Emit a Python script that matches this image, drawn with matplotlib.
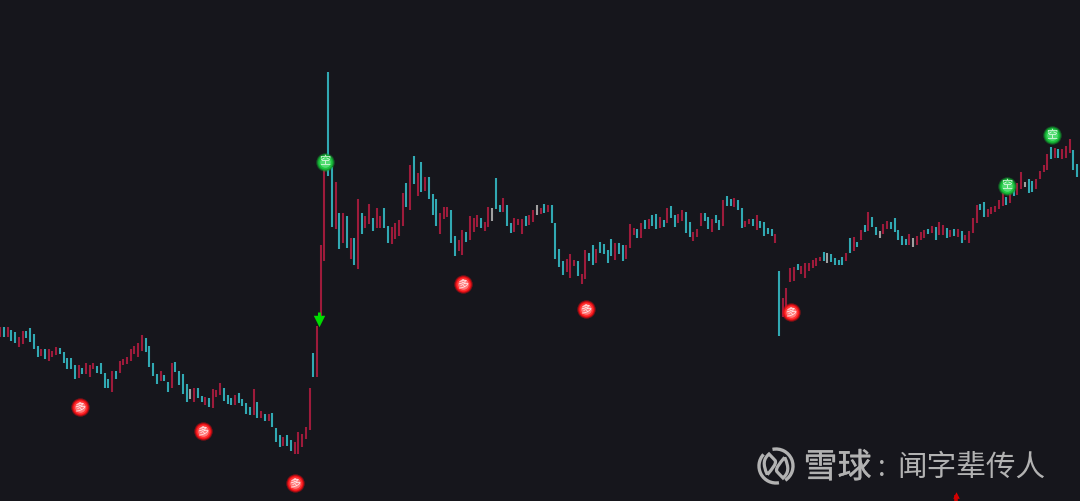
import matplotlib
matplotlib.use("Agg")
import matplotlib.pyplot as plt
import matplotlib.patheffects as pe
from matplotlib.path import Path
from matplotlib.patches import PathPatch, Arc

plt.rcParams['font.family'] = ['Noto Sans CJK SC', 'DejaVu Sans']

# candle tops (level grows downward, the chart has no visible scale)
bar_top = [
 327.3,327.3,327.3,330,332.3,337.3,331,331,328.3,334.3,
 346,349.3,349.3,349.3,350.7,347.3,348.3,351.7,358.3,358.3,
 365,365,368.3,363.3,365,363.3,365.7,363.3,372.7,378.7,
 371,371,361,358.7,357.3,349.3,346,343.3,335.3,338,
 346,363.3,373.7,371.3,375,381.7,363.3,362,371.3,373.7,
 384.3,389,387.7,387.7,395.7,397.3,398.3,389,390,383,
 387.7,394.7,398.3,394.7,393.3,399.3,403,407.3,389,401.7,
 411,414.3,414.3,413,428.3,435.3,437.3,435.3,440,442.3,
 431.7,434,427,387.7,353,326,245.3,165,71.7,166.7,
 181.7,213,213,216.3,238,238,199,213,216.3,203.7,
 217.7,208.3,216.3,208.3,225.7,227,223.3,220,193.3,182.7,
 165.3,156,173.3,162,177,177,194.3,199,213,207,
 207,209.7,236.3,239.7,230.3,231.7,216.3,217.7,215.3,217.7,
 222.3,207,208.3,178,204.7,197.7,204.7,223.3,217.7,218.7,
 218.7,216.3,215.3,209.7,204.7,208.3,203.7,204.7,204.7,223.3,
 248.7,261.3,259,254.3,260.3,261.3,274.3,250,253.3,245.3,
 248.7,241.7,244,250,239.3,243,243,245.3,245.3,224.3,
 227.7,229,223.3,219.7,218.7,215,214,217.3,219.7,208,
 205.7,215,214,210.3,211.7,222,232.3,229,212.7,212.7,
 217.3,218.7,215,219.7,200,196.3,198.7,197.7,200,208,
 221,218.7,218.7,215,221,222,228,229,233.7,270.7,
 298.3,288.3,268.3,267.3,263.7,266,262.7,262.7,260.3,258,
 256.7,252,253.3,254,258,260,257,253,238.3,237,
 241.7,230,225.3,211.7,217.3,226.7,231.3,224.3,220.7,222,
 218.3,230,236,239.3,233.7,238.3,236,232.3,230,229,
 225.7,226.7,222,225.3,227.7,230,229,229,231,234.7,
 231.3,218.3,204.7,204.3,202.3,209.3,207,205.7,200,193.3,
 196.7,193.3,190,182.7,172,181.7,179.3,181.3,179,171,
 165.3,153.7,146.7,147.7,149,149.3,145.7,138.7,150.3,164.3,
]
bar_bottom = [
 336.7,336.7,336.7,340.7,342.7,347.3,344,338.3,341.7,349.3,
 356.7,355.7,359,361.3,356.7,355,354.3,362.7,368.7,368.7,
 378.7,377.7,374,374,376.7,369.3,373,374,387.7,387.7,
 391.7,378.7,373,365,363.7,361.3,354.3,356.7,350.7,352,
 367,376.3,384.3,381,381,391.7,388,372,384.7,393.7,
 401.7,399.3,401.7,398.3,402,405.3,406.7,407.7,397.3,394.7,
 400.7,404.3,405.3,405.3,403,406.3,413.7,415,414.7,418.3,
 418.3,420.7,420.7,427.3,442.3,447,446,446,450.7,454,
 454,447,438.7,429.7,376.7,376.7,322,260.7,176,226.7,
 229.3,249,243.3,247.7,259.3,265.3,268.7,234,228.3,223.7,
 230.7,228.3,228.3,228.3,243.3,244.3,238.7,236.3,225.7,207.3,
 209.7,184,195.7,192.3,191,199,215.3,226,234,219,
 216.7,243.3,256,251.3,255,242,239.7,231.7,227,228.3,
 230.7,227,221.3,209.3,212,212,225.7,232.7,231.7,224.7,
 234,225.7,224.7,222.3,215.3,214.3,213,212,223.3,259.3,
 267.3,274.7,272.3,278,266.3,275.7,283.7,279,260.7,265.3,
 262.7,252.7,253.7,263,256,259.7,253.7,260.7,259.3,247.7,
 234.7,238.3,238.3,229.3,229.3,225.7,229.3,228,227,223.3,
 218,226.7,223.3,221,232.7,237.3,240.7,237.3,225.7,221,
 229.3,231.7,223.3,230.3,225.7,205.7,205.7,207,210.3,228,
 226.7,224.3,225.7,230.3,228,236.3,233.7,236,243,335.7,
 317.3,310,282.3,281.3,269.7,274.3,277.7,270.7,268.3,266,
 261.3,261.3,263,262,265,265,265,261,252.7,250.7,
 247.3,240,232.3,230.7,227.3,235.3,238,234.3,228.7,228.7,
 232.3,240,244.7,244.7,244.7,247.3,244.7,240,238,234.3,
 233.3,240,235.3,234.7,238,237,235.7,236.7,242.7,240.3,
 242.7,233.3,223,210.3,217,217,213.7,212.3,209,205.7,
 204.7,203,196.3,195,189.3,187.3,193,191.7,189.3,179,
 172,170.3,159.3,158,158,159.3,158.3,153.3,170,176.7,
]
# r = up, c = down, g = flat
bar_kind = list(
 "rcrccrrccc" "crcrrrcccc" "crcrrrcccc" "rcrrrrrrrc" "cccrccrccc"
 "cgrccrcrrr" "cccrccccrc" "rcrcccrccr" "rrrrcrrrcc" "rcrcrcrcrr"
 "crrccrrrrc" "rcrcrcccrr" "rccrrcrrrc" "rrgccrccrr" "rcrrgrcrcc"
 "ccrrrcrrcc" "rccccrccrr" "rcrcrccrcr" "ccrrccrrrc" "crccrccrcc"
 "rrcrccccrc" "rrrrcrrrrr" "rcgccccrcr" "crcrccgrrc" "ccccrgrrrc"
 "rcrrcrcrcr" "rrrccrrrrr" "crcrrgccrr" "rrcrcrrrcc"
)

# signals: bar position and level
buy_pos = [21.4, 54.4, 79.1, 124.2, 157.2, 212.2]
buy_level = [407, 431, 483, 284, 309, 312]
sell_pos = [87.1, 270.2, 282.3]
sell_level = [161.5, 185.5, 135]
arrow_pos = [85.4]
arrow_level = [320.5]
clip_pos = [256.6]
clip_level = [495]

BG = '#16161c'
COL = {'r': '#9e1b3b', 'c': '#31a9b3', 'g': '#a0a0a0'}
STEP = 3.726

fig = plt.figure(figsize=(10.8, 5.01), dpi=100, facecolor=BG)
ax = fig.add_axes([0, 0, 1, 1], facecolor=BG)
ax.set_xlim(-0.3 / STEP, (1080 - 0.3) / STEP)
ax.set_ylim(501, 0)
ax.axis('off')

n = min(len(bar_top), len(bar_bottom), len(bar_kind))
xs = list(range(n))
ax.vlines(xs, bar_top[:n], bar_bottom[:n], colors=[COL[k] for k in bar_kind[:n]],
          linewidth=1.5, capstyle='butt', zorder=2)


def ball(px, py, glyph, edge, main, light):
    ax.scatter(px, py, s=175, color=edge, linewidths=0, alpha=0.5, zorder=5)
    ax.scatter(px, py, s=135, color=edge, linewidths=0, zorder=5)
    ax.scatter(px, py, s=100, color=main, linewidths=0, zorder=6)
    ax.scatter(px, py, s=58, color=light, linewidths=0, zorder=6)
    for x, y in zip(px, py):
        ax.text(x, y, glyph, color='white', fontsize=8, ha='center', va='center',
                alpha=0.8, zorder=7)


ball(buy_pos, buy_level, '多', '#e80c12', '#ff3030', '#ff7a7a')
ball(sell_pos, sell_level, '空', '#12a030', '#1fc440', '#52dc72')

# green down arrow
ax.vlines(arrow_pos, [l - 8.5 for l in arrow_level], arrow_level, colors='#00dc00',
          linewidth=2.2, capstyle='butt', zorder=6)
ax.scatter(arrow_pos, arrow_level, marker='v', s=68, color='#00dc00',
           linewidths=0, zorder=6)

# partly clipped red arrow at the bottom edge
ax.scatter(clip_pos, clip_level, marker='^', s=22, color='#e00000', linewidths=0, zorder=6)
ax.vlines(clip_pos, clip_level, [l + 7 for l in clip_level], colors='#d00000',
          linewidth=2.6, capstyle='butt', zorder=6)

# watermark drawn on a pixel overlay
ov = fig.add_axes([0, 0, 1, 1], facecolor='none')
ov.set_xlim(0, 1080)
ov.set_ylim(501, 0)
ov.axis('off')
GR = '#b2b2b2'
ov.add_patch(Arc((776, 466), 34, 34, theta1=258, theta2=417, color=GR, lw=2.4))
ov.add_patch(Arc((776, 466), 34, 34, theta1=80, theta2=223, color=GR, lw=2.4))


def leaf(mirror):
    pts = [(767.3, 474.7), (762.5, 464), (763.5, 459), (769, 454),
           (772, 457), (775.3, 460.7), (775.3, 460.7),
           (776.5, 464), (772, 469), (767.3, 474.7)]
    if mirror:
        pts = [(1552 - x, 932 - y) for x, y in pts]
    codes = [Path.MOVETO] + [Path.CURVE4] * 9
    return Path(pts, codes)


for m in (False, True):
    ov.add_patch(PathPatch(leaf(m), fc='none', ec=GR, lw=2.3))

halo = [pe.withStroke(linewidth=0.25, foreground=GR)]
ov.text(837.5, 468, '雪球', color=GR, fontsize=24.5, ha='center', va='center', path_effects=halo)
ov.text(882, 467.5, ':', color=GR, fontsize=20, ha='center', va='center')
ov.text(971, 467.5, '闻字辈传人', color=GR, fontsize=21.3, ha='center', va='center')

fig.savefig('out.png', dpi=100, facecolor=BG)
